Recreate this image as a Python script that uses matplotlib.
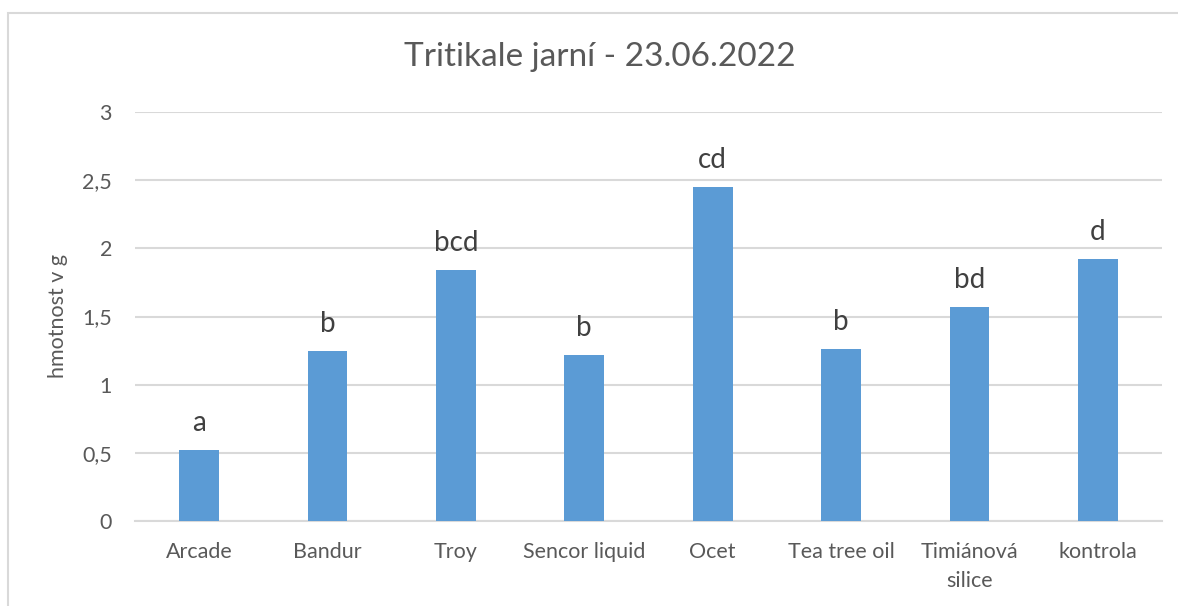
import matplotlib.pyplot as plt
from matplotlib.patches import Rectangle
from matplotlib.ticker import FuncFormatter

plt.rcParams['font.family'] = ['Lato', 'DejaVu Sans']

categories = ['Arcade', 'Bandur', 'Troy', 'Sencor liquid', 'Ocet',
              'Tea tree oil', 'Timiánová\nsilice', 'kontrola']
values = [0.52, 1.25, 1.84, 1.22, 2.45, 1.26, 1.57, 1.92]
letters = ['a', 'b', 'bcd', 'b', 'cd', 'b', 'bd', 'd']

text_col = '#595959'
bar_col = '#5B9BD5'
grid_col = '#D9D9D9'

fig = plt.figure(figsize=(11.78, 6.06), dpi=100)
ax = fig.add_axes([135/1178, 1 - 521/606, (1162 - 135)/1178, (521 - 112)/606])

# chart border (cut off at right and bottom like the original)
fig.patches.append(Rectangle((8/1178, -0.1), 1.2, 1.1 - 13/606, transform=fig.transFigure,
                             fill=False, edgecolor=grid_col, linewidth=1.5))

x = range(len(categories))
bars = ax.bar(x, values, width=0.31, color=bar_col, zorder=3)
for b, lab in zip(bars, letters):
    ax.annotate(lab, (b.get_x() + b.get_width()/2, b.get_height()),
                xytext=(0, 13.5), textcoords='offset points', ha='center', va='baseline',
                fontsize=20, color='#404040')

ax.set_xlim(-0.5, len(categories) - 0.5)
ax.set_ylim(0, 3)
ax.set_yticks([0, 0.5, 1, 1.5, 2, 2.5, 3])
ax.yaxis.set_major_formatter(FuncFormatter(lambda v, p: ('%g' % v).replace('.', ',')))
ax.set_xticks(list(x))
ax.set_xticklabels(categories, fontsize=15.5, color=text_col, va='top', linespacing=1.55)
ax.tick_params(axis='y', labelsize=15.5, labelcolor=text_col, length=0, pad=16.5)
ax.tick_params(axis='x', length=0, pad=15)
ax.grid(axis='y', color=grid_col, linewidth=1.5, zorder=0)
for s in ['top', 'right', 'left']:
    ax.spines[s].set_visible(False)
ax.spines['bottom'].set_color(grid_col)
ax.spines['bottom'].set_linewidth(1.5)

ax.set_ylabel('hmotnost v g', fontsize=15.5, color=text_col, labelpad=10)
fig.text(600/1178, 1 - 57/606, 'Tritikale jarní - 23.06.2022', ha='center', va='center',
         fontsize=24, color=text_col)

fig.savefig('out.png', dpi=100)
